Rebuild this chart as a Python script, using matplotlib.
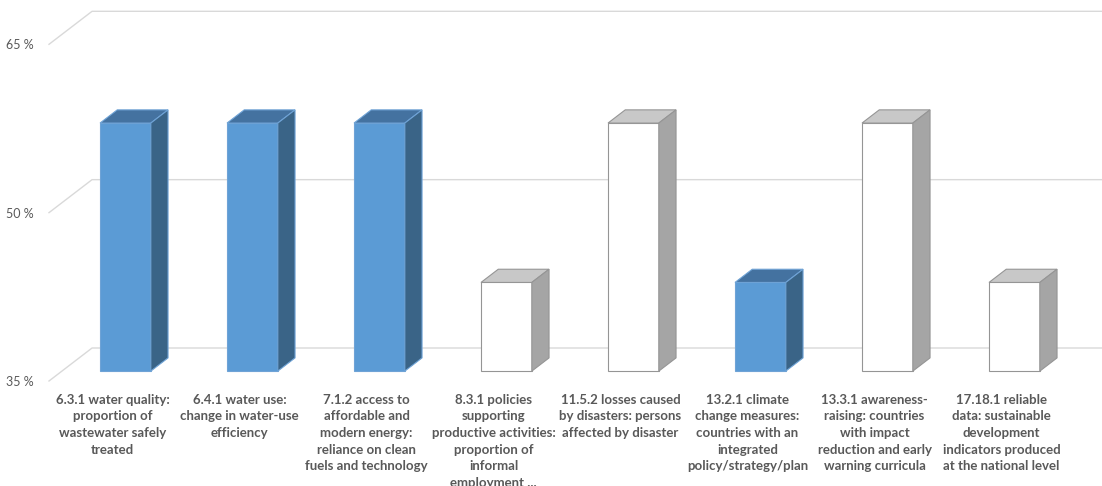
import matplotlib.pyplot as plt
from matplotlib.patches import Polygon

# indicator labels, wrapped as in the original chart
categories = [
    "6.3.1 water quality:\nproportion of\nwastewater safely\ntreated",
    "6.4.1 water use:\nchange in water-use\nefficiency",
    "7.1.2 access to\naffordable and\nmodern energy:\nreliance on clean\nfuels and technology",
    "8.3.1 policies\nsupporting\nproductive activities:\nproportion of\ninformal\nemployment ...",
    "11.5.2 losses caused\nby disasters: persons\naffected by disaster",
    "13.2.1 climate\nchange measures:\ncountries with an\nintegrated\npolicy/strategy/plan",
    "13.3.1 awareness-\nraising: countries\nwith impact\nreduction and early\nwarning curricula",
    "17.18.1 reliable\ndata: sustainable\ndevelopment\nindicators produced\nat the national level",
]
values = [57.1, 57.1, 57.1, 42.9, 57.1, 42.9, 57.1, 42.9]
highlighted = [True, True, True, False, False, True, False, False]
y_ticks = [35, 50, 65]
y_tick_labels = ["35 %", "50 %", "65 %"]

# 3D look: oblique depth of the floor, in data units
depth_x, depth_y = 0.339, 2.94
front, back = 0.3, 0.7
bar_w = 0.40

blue = {"front": "#5B9BD5", "top": "#4472A0", "side": "#3A6487", "edge": "#6FA3D6"}
white = {"front": "#FFFFFF", "top": "#C8C8C8", "side": "#A5A5A5", "edge": "#959595"}
grid_color = "#D9D9D9"
text_color = "#595959"

plt.rcParams["font.family"] = ["Lato", "DejaVu Sans"]

fig = plt.figure(figsize=(11.02, 4.86), dpi=100)
ax = fig.add_axes([49 / 1102, 105 / 486, 1016 / 1102, 336.7 / 486])
ymin, ymax = y_ticks[0], y_ticks[-1]
n = len(categories)
ax.set_xlim(-0.5, n - 0.5)
ax.set_ylim(ymin, ymax)

# side wall diagonals + back wall gridlines
for v in y_ticks:
    ax.plot([-0.5, -0.5 + depth_x, n - 0.5 + depth_x + 0.1],
            [v, v + depth_y, v + depth_y],
            color=grid_color, lw=1, clip_on=False, zorder=1)

for i, (val, hl) in enumerate(zip(values, highlighted)):
    c = blue if hl else white
    x0 = i - bar_w / 2 + front * depth_x
    x1 = x0 + bar_w
    y0 = ymin + front * depth_y
    y1 = val + front * depth_y
    ddx = (back - front) * depth_x
    ddy = (back - front) * depth_y
    faces = [
        ([(x0, y0), (x1, y0), (x1, y1), (x0, y1)], c["front"]),
        ([(x0, y1), (x1, y1), (x1 + ddx, y1 + ddy), (x0 + ddx, y1 + ddy)], c["top"]),
        ([(x1, y0), (x1 + ddx, y0 + ddy), (x1 + ddx, y1 + ddy), (x1, y1)], c["side"]),
    ]
    for pts, fc in faces:
        ax.add_patch(Polygon(pts, closed=True, facecolor=fc, edgecolor=c["edge"],
                             lw=0.8, clip_on=False, zorder=3))

for s in ax.spines.values():
    s.set_visible(False)

ax.set_yticks(y_ticks)
ax.set_yticklabels(y_tick_labels, fontsize=9, color=text_color)
ax.tick_params(axis="y", length=0, pad=11)

ax.set_xticks(range(n))
ax.set_xticklabels(categories, fontsize=9.5, fontweight="bold", color=text_color,
                   linespacing=1.47, va="top")
ax.tick_params(axis="x", length=0, pad=9)

fig.savefig("out.png", dpi=100)
